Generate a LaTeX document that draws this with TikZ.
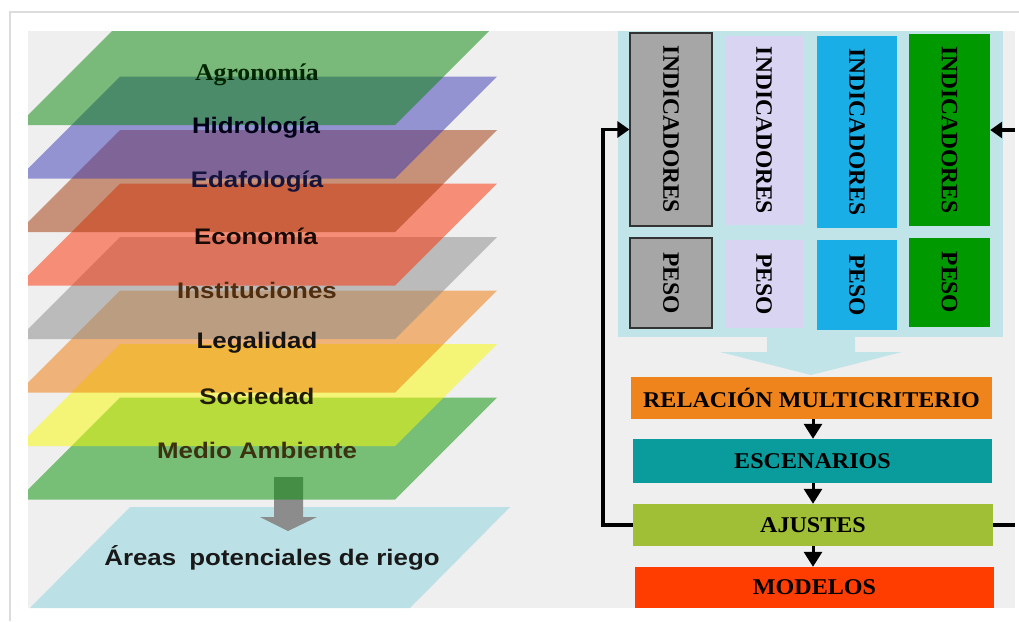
\documentclass[tikz,border=0pt]{standalone}
\usepackage{fontspec}
\usetikzlibrary{arrows.meta}
\newfontfamily\sansx[FakeStretch=1.15]{Liberation Sans}
\newfontfamily\serifx[FakeStretch=1.07]{Liberation Serif}
\newfontfamily\serifv{Liberation Serif}
\definecolor{bgpanel}{HTML}{EFEFEF}
\definecolor{frameg}{HTML}{DCDCDC}
\definecolor{lgreen}{RGB}{5,133,5}
\definecolor{lblue}{RGB}{57,57,181}
\definecolor{lbrown}{RGB}{161,53,5}
\definecolor{lsalmon}{RGB}{251,45,0}
\definecolor{lgray}{RGB}{137,137,137}
\definecolor{lorange}{RGB}{239,121,5}
\definecolor{lyellow}{RGB}{249,249,0}
\definecolor{lgreenb}{RGB}{0,145,0}
\definecolor{areas}{HTML}{BBE1E6}
\definecolor{panelb}{HTML}{C0E4E8}
\definecolor{cgray}{HTML}{A6A6A6}
\definecolor{clav}{HTML}{D8D4F2}
\definecolor{cblue}{HTML}{1AAEE6}
\definecolor{cgreen}{HTML}{009A00}
\definecolor{frel}{HTML}{F0841C}
\definecolor{fesc}{HTML}{0A9C9C}
\definecolor{faju}{HTML}{A0BF36}
\definecolor{fmod}{HTML}{FF3D00}
\tikzset{
  layer/.style={fill=#1, fill opacity=0.5, draw=none},
  lab/.style={font=\sansx\bfseries\fontsize{22.5}{26}\selectfont, inner sep=0pt},
  colbox/.style={fill=#1, draw=none, inner sep=0pt, rotate=-90,
     font=\serifv\bfseries\fontsize{23.5}{26}\selectfont},
  flowbox/.style={fill=#1, draw=none, inner sep=0pt,
     font=\serifx\bfseries\fontsize{22.5}{26}\selectfont},
  flowarrow/.style={line width=3pt, -{Triangle[width=18pt,length=15pt]}},
  loopline/.style={line width=3.5pt},
}
\begin{document}
\begin{tikzpicture}[x=1pt,y=-1pt]
\useasboundingbox (0,0) rectangle (1019,621);
\fill[white] (0,0) rectangle (1019,621);
% frame
\draw[frameg, line width=2pt] (10,621) -- (10,12) -- (1019,12);
\fill[bgpanel] (28,31) rectangle (1015,608);
% left: layers
\begin{scope}
\clip (28,31) rectangle (1015,608);
\fill[areas] (130,507) -- (510,507) -- (410,608) -- (30,608) -- cycle;
% gray arrow
\fill[gray!90] (274,477) -- (303,477) -- (303,517) -- (317,517) -- (288,531) -- (260,517) -- (274,517) -- cycle;
\foreach \c/\i in {lgreenb/7, lyellow/6, lorange/5, lgray/4, lsalmon/3, lbrown/2, lblue/1, lgreen/0}{
  \pgfmathsetmacro{\t}{23+53.5*\i}
  \fill[layer=\c] (120,\t) -- (497,\t) -- (395,\t+102) -- (18,\t+102) -- cycle;
}
\end{scope}
\node[font=\serifx\bfseries\fontsize{24}{26}\selectfont, text=black!85!green, inner sep=0pt] (agr) at (257,75) {Agronomía};
\node[lab, text=black!90!blue] (hid) at (256,128) {Hidrología};
\node[lab, text={rgb,255:red,20;green,20;blue,60}] (eda) at (257,182) {Edafología};
\node[lab, text={rgb,255:red,25;green,10;blue,5}] (eco) at (256,236) {Economía};
\node[lab, text={rgb,255:red,80;green,45;blue,15}] (ins) at (257,290) {Instituciones};
\node[lab, text=black!92] (leg) at (257,343) {Legalidad};
\node[lab, text={rgb,255:red,35;green,28;blue,5}] (soc) at (257,396) {Sociedad};
\node[lab, text={rgb,255:red,60;green,50;blue,15}] (med) at (257,450) {Medio Ambiente};
\node[lab, text=black!90] (are) at (272,558) {Áreas\hspace{6pt} potenciales de riego};
% right: indicator panel
\fill[panelb] (618,31) rectangle (1003,337);
\fill[panelb] (767,337) -- (855,337) -- (855,352) -- (902,352) -- (811,375) -- (720,352) -- (767,352) -- cycle;
\node[colbox=cgray, draw=black!80, line width=1.2pt, minimum width=193pt, minimum height=82pt] (i1) at (671,129.5) {INDICADORES};
\node[colbox=cgray, draw=black!80, line width=1.2pt, minimum width=90pt, minimum height=82pt] (p1) at (671,283) {PESO};
\node[colbox=clav, minimum width=189pt, minimum height=78pt] (i2) at (764,130.5) {INDICADORES};
\node[colbox=clav, minimum width=88pt, minimum height=78pt] (p2) at (764,284) {PESO};
\node[colbox=cblue, minimum width=192pt, minimum height=80pt] (i3) at (857,132) {INDICADORES};
\node[colbox=cblue, minimum width=90pt, minimum height=80pt] (p3) at (857,285) {PESO};
\node[colbox=cgreen, minimum width=192pt, minimum height=81pt] (i4) at (949.5,130) {INDICADORES};
\node[colbox=cgreen, minimum width=89pt, minimum height=81pt] (p4) at (949.5,282.5) {PESO};
% flow
\node[flowbox=frel, minimum width=361pt, minimum height=42pt] (rel) at (811.5,398) {RELACIÓN MULTICRITERIO};
\node[flowbox=fesc, minimum width=359pt, minimum height=44pt] (esc) at (812.5,461) {ESCENARIOS};
\node[flowbox=faju, minimum width=360pt, minimum height=42pt] (aju) at (813,525) {AJUSTES};
\node[flowbox=fmod, minimum width=359pt, minimum height=41pt] (mod) at (814.5,587.5) {MODELOS};
\draw[flowarrow] (rel.south -| 813,0) -- (esc.north -| 813,0);
\draw[flowarrow] (esc.south -| 813,0) -- (aju.north -| 813,0);
\draw[flowarrow] (aju.south -| 813,0) -- (mod.north -| 813,0);
% feedback
\coordinate (lc) at (603,525);
\coordinate (rc) at (1015,525);
\coordinate (rt) at (1015,130);
\draw[loopline, -{Triangle[width=16pt,length=12pt]}] (aju.west) -- (lc) |- (i1.south);
\draw[loopline] (aju.east) -- (rc);
\draw[loopline, -{Triangle[width=16pt,length=12pt]}] (rt) -- (i4.north |- rt);
\end{tikzpicture}
\end{document}
